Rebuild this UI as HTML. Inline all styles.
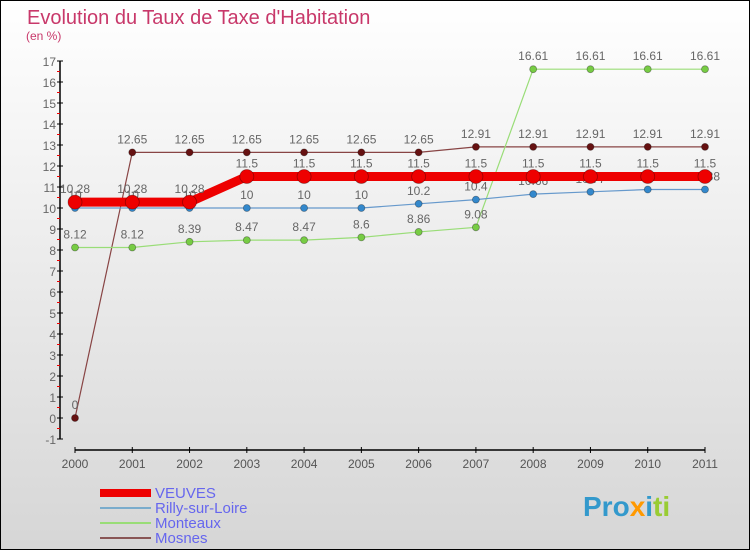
<!DOCTYPE html>
<html><head><meta charset="utf-8"><style>
body{margin:0;width:750px;height:550px;overflow:hidden;font-family:"Liberation Sans",sans-serif}
#bg{position:absolute;left:0;top:0;width:748px;height:548px;border:1px solid #000;background:linear-gradient(#fff,#d6d6d6)}
</style></head><body>
<div id="bg"></div>
<svg id="c" width="750" height="550" style="position:absolute;left:0;top:0">
<text x="27" y="24" font-size="20" fill="#c8386a">Evolution du Taux de Taxe d'Habitation</text>
<text x="26" y="40" font-size="12" fill="#c8386a">(en %)</text>
<g id="axes"></g><g id="series"></g>
<g font-size="15" fill="#6666ee">
<rect x="100" y="489" width="51" height="8" fill="#e00"/>
<text x="155" y="498">VEUVES</text>
<rect x="100" y="507" width="51" height="2" fill="#7aaccc"/>
<text x="155" y="513">Rilly-sur-Loire</text>
<rect x="100" y="522" width="51" height="2" fill="#99dd77"/>
<text x="155" y="528">Monteaux</text>
<rect x="100" y="537" width="51" height="2" fill="#885555"/>
<text x="155" y="543">Mosnes</text>
</g>
<text x="583" y="516" font-size="28" font-weight="bold"><tspan fill="#3399cc">Pro</tspan><tspan fill="#ff9900">x</tspan><tspan fill="#3399cc">i</tspan><tspan fill="#99cc33">ti</tspan></text>
</svg>
<script>
const years=[2000,2001,2002,2003,2004,2005,2006,2007,2008,2009,2010,2011];
const yTicks=[-1,0,1,2,3,4,5,6,7,8,9,10,11,12,13,14,15,16,17];
const veuves=[10.28,10.28,10.28,11.5,11.5,11.5,11.5,11.5,11.5,11.5,11.5,11.5];
const veuvesLbl=["10.28","10.28","10.28","11.5","11.5","11.5","11.5","11.5","11.5","11.5","11.5","11.5"];
const rilly=[10,10,10,10,10,10,10.2,10.4,10.66,10.77,10.88,10.88];
const rillyLbl=["10","10","10","10","10","10","10.2","10.4","10.66","10.77","10.88","10.88"];
const monteaux=[8.12,8.12,8.39,8.47,8.47,8.6,8.86,9.08,16.61,16.61,16.61,16.61];
const monteauxLbl=["8.12","8.12","8.39","8.47","8.47","8.6","8.86","9.08","16.61","16.61","16.61","16.61"];
const mosnes=[0,12.65,12.65,12.65,12.65,12.65,12.65,12.91,12.91,12.91,12.91,12.91];
const mosnesLbl=["0","12.65","12.65","12.65","12.65","12.65","12.65","12.91","12.91","12.91","12.91","12.91"];
const NS="http://www.w3.org/2000/svg";
const X=i=>75+i*(630/11), Y=v=>418-v*21;
function mk(t,a,p){const e=document.createElementNS(NS,t);for(const k in a)e.setAttribute(k,a[k]);p.appendChild(e);return e;}
const ax=document.getElementById('axes'), sg=document.getElementById('series');
let l=mk('line',{x1:60,y1:Y(17),x2:60,y2:Y(-1),stroke:'#000','stroke-width':1.5},ax);


l=mk('line',{x1:75,y1:450,x2:705,y2:450,stroke:'#000','stroke-width':1.5},ax);


yTicks.forEach(v=>{
 mk('line',{x1:57,x2:63,y1:Y(v),y2:Y(v),stroke:'#000'},ax);
 if(v<17) mk('line',{x1:57,x2:60,y1:Y(v+0.5),y2:Y(v+0.5),stroke:'#e00'},ax);
 const t=mk('text',{x:56,y:Y(v)+5,'text-anchor':'end','font-size':12,fill:'#666'},ax);t.textContent=v;
 
 
});
years.forEach((y,i)=>{
 mk('line',{x1:X(i),x2:X(i),y1:447,y2:453,stroke:'#000'},ax);
 const t=mk('text',{x:X(i),y:468,'text-anchor':'middle','font-size':12,fill:'#555'},ax);t.textContent=y;
 
 
});
function series(vals,lbls,color,dot,w,r,name){
 const g=mk('g',{},sg);
 
 
 mk('polyline',{points:vals.map((v,i)=>X(i)+','+Y(v)).join(' '),fill:'none',stroke:color,'stroke-width':w},g);
 vals.forEach((v,i)=>{
  const c=mk('circle',{cx:X(i),cy:Y(v),r:r,fill:dot,stroke:'rgba(0,0,0,0.35)','stroke-width':0.8},g);
  
  
  const t=mk('text',{x:X(i),y:Y(v)-9,'text-anchor':'middle','font-size':12,fill:'#666'},g);t.textContent=lbls[i];
 });
}
series(mosnes,mosnesLbl,'#884444','#661111',1.2,3.5,'mosnes');
series(monteaux,monteauxLbl,'#99dd77','#77cc44',1.2,3.5,'monteaux');
series(rilly,rillyLbl,'#6699cc','#3388cc',1.2,3.5,'rilly');
series(veuves,veuvesLbl,'#ee0000','#ee0000',9,7,'veuves');
</script>
</body></html>
